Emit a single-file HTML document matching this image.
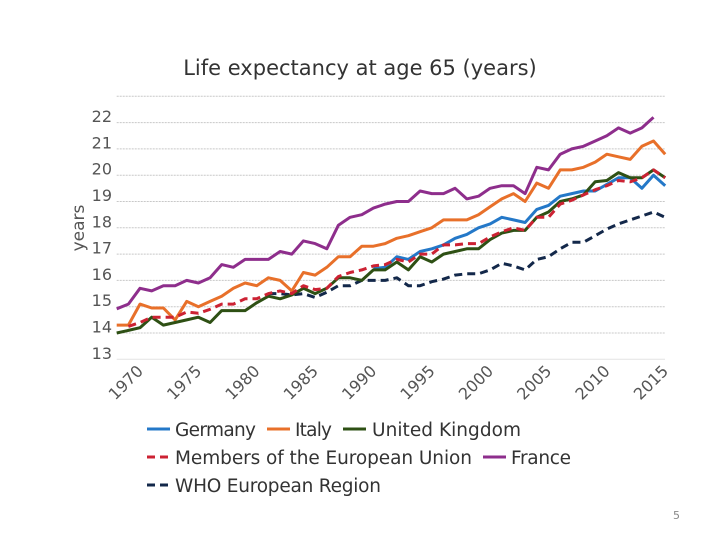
<!DOCTYPE html>
<html><head><meta charset="utf-8"><style>
body{margin:0;background:#fff;}
svg{display:block;font-family:"DejaVu Sans","Liberation Sans",sans-serif;}
</style></head><body>
<svg id="chart" width="720" height="540">
<text x="360" y="75" text-anchor="middle" font-size="21" fill="#333">Life expectancy at age 65 (years)</text>
<text transform="translate(84,228) rotate(-90)" text-anchor="middle" font-size="17" fill="#555">years</text>
<g id="grid"></g><g id="yticks"></g><g id="xticks"></g><g id="series"></g>
<g font-size="18.5" fill="#333">
 <line x1="147" y1="429" x2="170" y2="429" stroke="#2478c8" stroke-width="3"/>
 <text x="175" y="436" textLength="81">Germany</text>
 <line x1="267" y1="429" x2="290" y2="429" stroke="#e8702a" stroke-width="3"/>
 <text x="295" y="436" textLength="37">Italy</text>
 <line x1="343" y1="429" x2="366" y2="429" stroke="#2e5014" stroke-width="3"/>
 <text x="372" y="436" textLength="149">United Kingdom</text>
 <line x1="147" y1="457" x2="170" y2="457" stroke="#cc2233" stroke-width="3" stroke-dasharray="8,5"/>
 <text x="175" y="464" textLength="297">Members of the European Union</text>
 <line x1="483" y1="457" x2="506" y2="457" stroke="#8e2e8c" stroke-width="3"/>
 <text x="511" y="464" textLength="60">France</text>
 <line x1="147" y1="485" x2="170" y2="485" stroke="#13284a" stroke-width="3" stroke-dasharray="8,5"/>
 <text x="175" y="492" textLength="206">WHO European Region</text>
</g>
<text x="673" y="519" font-size="11" fill="#888">5</text>
</svg>
<script>
const yTicks=[13,14,15,16,17,18,19,20,21,22];
const xTicks=[1970,1975,1980,1985,1990,1995,2000,2005,2010,2015];
const francePts=[[1968,14.92],[1969,15.1],[1970,15.7],[1971,15.6],[1972,15.8],[1973,15.8],[1974,16.0],[1975,15.9],[1976,16.1],[1977,16.6],[1978,16.5],[1979,16.8],[1980,16.8],[1981,16.8],[1982,17.1],[1983,17.0],[1984,17.5],[1985,17.4],[1986,17.2],[1987,18.1],[1988,18.4],[1989,18.5],[1990,18.75],[1991,18.9],[1992,19.0],[1993,19.0],[1994,19.4],[1995,19.3],[1996,19.3],[1997,19.5],[1998,19.1],[1999,19.2],[2000,19.5],[2001,19.6],[2002,19.6],[2003,19.3],[2004,20.3],[2005,20.2],[2006,20.8],[2007,21.0],[2008,21.1],[2009,21.3],[2010,21.5],[2011,21.8],[2012,21.6],[2013,21.8],[2014,22.2]];
const italyPts=[[1968,14.3],[1969,14.3],[1970,15.1],[1971,14.95],[1972,14.95],[1973,14.5],[1974,15.2],[1975,15.0],[1976,15.2],[1977,15.4],[1978,15.7],[1979,15.9],[1980,15.8],[1981,16.1],[1982,16.0],[1983,15.6],[1984,16.3],[1985,16.2],[1986,16.5],[1987,16.9],[1988,16.9],[1989,17.3],[1990,17.3],[1991,17.4],[1992,17.6],[1993,17.7],[1994,17.85],[1995,18.0],[1996,18.3],[1997,18.3],[1998,18.3],[1999,18.5],[2000,18.8],[2001,19.1],[2002,19.3],[2003,19.0],[2004,19.7],[2005,19.5],[2006,20.2],[2007,20.2],[2008,20.3],[2009,20.5],[2010,20.8],[2011,20.7],[2012,20.6],[2013,21.1],[2014,21.3],[2015,20.8]];
const ukPts=[[1968,14.0],[1969,14.1],[1970,14.2],[1971,14.6],[1972,14.3],[1973,14.4],[1974,14.5],[1975,14.6],[1976,14.4],[1977,14.85],[1978,14.85],[1979,14.85],[1980,15.15],[1981,15.4],[1982,15.3],[1983,15.45],[1984,15.7],[1985,15.5],[1986,15.7],[1987,16.1],[1988,16.1],[1989,16.0],[1990,16.4],[1991,16.4],[1992,16.7],[1993,16.4],[1994,16.9],[1995,16.7],[1996,17.0],[1997,17.1],[1998,17.2],[1999,17.2],[2000,17.55],[2001,17.8],[2002,17.9],[2003,17.9],[2004,18.4],[2005,18.6],[2006,19.0],[2007,19.1],[2008,19.25],[2009,19.75],[2010,19.8],[2011,20.1],[2012,19.9],[2013,19.9],[2014,20.2],[2015,19.9]];
const germanyPts=[[1990,16.45],[1991,16.5],[1992,16.9],[1993,16.8],[1994,17.1],[1995,17.2],[1996,17.35],[1997,17.6],[1998,17.75],[1999,18.0],[2000,18.15],[2001,18.4],[2002,18.3],[2003,18.2],[2004,18.7],[2005,18.85],[2006,19.2],[2007,19.3],[2008,19.4],[2009,19.4],[2010,19.65],[2011,19.9],[2012,19.9],[2013,19.5],[2014,20.0],[2015,19.6]];
const euPts=[[1969,14.25],[1970,14.4],[1971,14.6],[1972,14.6],[1973,14.6],[1974,14.8],[1975,14.75],[1976,14.9],[1977,15.1],[1978,15.1],[1979,15.3],[1980,15.3],[1981,15.5],[1982,15.6],[1983,15.5],[1984,15.8],[1985,15.65],[1986,15.7],[1987,16.15],[1988,16.3],[1989,16.4],[1990,16.55],[1991,16.6],[1992,16.8],[1993,16.7],[1994,17.0],[1995,17.0],[1996,17.35],[1997,17.35],[1998,17.4],[1999,17.4],[2000,17.65],[2001,17.85],[2002,18.0],[2003,17.9],[2004,18.4],[2005,18.4],[2006,18.9],[2007,19.05],[2008,19.25],[2009,19.45],[2010,19.6],[2011,19.8],[2012,19.75],[2013,19.9],[2014,20.2],[2015,19.9]];
const whoPts=[[1981,15.5],[1982,15.5],[1983,15.45],[1984,15.5],[1985,15.35],[1986,15.55],[1987,15.8],[1988,15.8],[1989,16.0],[1990,16.0],[1991,16.0],[1992,16.1],[1993,15.8],[1994,15.8],[1995,15.95],[1996,16.05],[1997,16.2],[1998,16.25],[1999,16.25],[2000,16.4],[2001,16.65],[2002,16.55],[2003,16.4],[2004,16.8],[2005,16.9],[2006,17.2],[2007,17.45],[2008,17.45],[2009,17.7],[2010,17.95],[2011,18.15],[2012,18.3],[2013,18.45],[2014,18.6],[2015,18.4]];

const NS="http://www.w3.org/2000/svg";
const X0=116.7,YR0=1968,PXY=11.67,Y13=359.3,PXV=26.3;
function xs(yr){return X0+(yr-YR0)*PXY;}
function ys(v){return Y13-(v-13)*PXV;}
function mk(tag,attrs,parent){const e=document.createElementNS(NS,tag);for(const k in attrs)e.setAttribute(k,attrs[k]);parent.appendChild(e);return e;}
const grid=document.getElementById('grid'),yt=document.getElementById('yticks'),xt=document.getElementById('xticks'),ser=document.getElementById('series');
[...yTicks,23].forEach(v=>{
 const l=mk('line',{x1:X0,x2:665,y1:ys(v),y2:ys(v),stroke:v===13?'#e4e4e4':'#c8c8c8','stroke-width':1,'stroke-dasharray':v===13?'':'2,1'},grid);
 
 
});
yTicks.forEach(v=>{
 const t=mk('text',{x:112,y:ys(v)-0.5,'text-anchor':'end','font-size':16,fill:'#555'},yt);
 t.textContent=v;
 
 
});
xTicks.forEach(yr=>{
 const x=xs(yr);
 const t=mk('text',{transform:`translate(${x+4},${372}) rotate(-45)`,'text-anchor':'end','font-size':16,fill:'#555'},xt);
 t.textContent=yr;
 
 
});
const seriesDefs=[[whoPts,'#13284a',true,'series-who-europe'],[francePts,'#8e2e8c',false,'series-france'],[italyPts,'#e8702a',false,'series-italy'],[germanyPts,'#2478c8',false,'series-germany'],[ukPts,'#2e5014',false,'series-united-kingdom'],[euPts,'#cc2233',true,'series-eu-members']];
seriesDefs.forEach(([pts,c,dash,name])=>{
 const p=mk('polyline',{points:pts.map(d=>xs(d[0]).toFixed(1)+','+ys(d[1]).toFixed(1)).join(' '),fill:'none',stroke:c,'stroke-width':3,'stroke-linejoin':'round','stroke-dasharray':dash?'8,5':''},ser);
 
 
});
</script>
</body></html>
